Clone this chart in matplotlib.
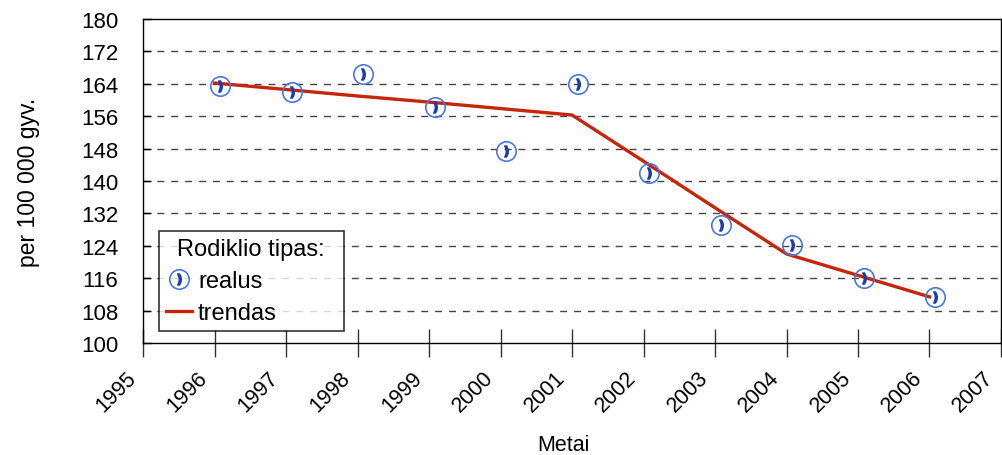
import matplotlib
matplotlib.use("Agg")
import matplotlib.pyplot as plt
import matplotlib.transforms as mtransforms
from matplotlib.lines import Line2D
from matplotlib.offsetbox import HPacker, DrawingArea

plt.rcParams['font.family'] = ['Liberation Sans', 'DejaVu Sans']

years = [1996, 1997, 1998, 1999, 2000, 2001, 2002, 2003, 2004, 2005, 2006]
realus = [163.5, 162.0, 166.4, 158.3, 147.4, 164.0, 142.0, 129.1, 124.2, 116.0, 111.4]
trendas = [164.2, 162.6, 161.0, 159.5, 157.9, 156.3, 144.9, 133.4, 122.0, 116.7, 111.4]
yticks = [100, 108, 116, 124, 132, 140, 148, 156, 164, 172, 180]
xticks = list(range(1995, 2008))

fig = plt.figure(figsize=(10.03, 4.56), dpi=100)
ax = fig.add_axes([0.1426, 0.2456, 0.998 - 0.1426, 0.956 - 0.2456])

ax.set_xlim(1995, 2007)
ax.set_ylim(100, 180)
for t in yticks[1:-1]:
    ax.axhline(t, color='#444444', lw=1, ls=(0, (5, 5)), zorder=1)

ax.plot(years, trendas, color='#c4250b', lw=2.4, zorder=2)
xm = [y + 0.08 for y in years]
ax.plot(xm, realus, ls='none', marker='o', ms=14, mfc='none', mec='#4a78e0', mew=1.2, zorder=3)
ax.plot(xm, realus, ls='none', marker=r'$\mathbf{)}$', ms=8, color='#1a3cb0', zorder=4)

ax.set_xticks(xticks)
ax.set_yticks(yticks)
ax.tick_params(axis='x', direction='inout', length=20, width=1, color='#333333', pad=14)
ax.tick_params(axis='y', direction='in', length=6, width=1, pad=18)
ax.set_xticklabels([str(x) for x in xticks], rotation=45, ha='right', va='center',
                   rotation_mode='anchor', fontsize=15.5)
ax.set_yticklabels([str(y) for y in yticks], fontsize=16)
off = mtransforms.ScaledTranslation(-7.5 / 72, 1.5 / 72, fig.dpi_scale_trans)
for lab in ax.get_xticklabels():
    lab.set_transform(lab.get_transform() + off)
ax.set_ylabel('per 100 000 gyv.', fontsize=16.5)
ax.yaxis.set_label_coords(-0.120, 0.5)
fig.text(563 / 1003, 1 - 446 / 456, 'Metai', fontsize=15.5, ha='center', va='center')
for s in ax.spines.values():
    s.set_linewidth(1)

h1 = (Line2D([], [], ls='none', marker='o', ms=14, mfc='none', mec='#4a78e0', mew=1.2),
      Line2D([], [], ls='none', marker=r'$\mathbf{)}$', ms=8, color='#1a3cb0'))
h2 = Line2D([], [], color='#c4250b', lw=2.4)
leg = ax.legend([h1, h2], ['realus', 'trendas'], title='Rodiklio tipas:', loc='upper left',
                bbox_to_anchor=((159 - 143) / 858, (344 - 232) / 324), fontsize=17, title_fontsize=17,
                frameon=True, fancybox=False, edgecolor='black', handlelength=1.1, handletextpad=0.25,
                borderpad=0.3, labelspacing=0.42, borderaxespad=0)
leg.get_frame().set_linewidth(1.2)
vp = leg._legend_box
vp.align = 'left'
vp._children[0] = HPacker(children=[DrawingArea(8, 1), leg._legend_title_box, DrawingArea(9, 1)],
                          pad=0, sep=0, align='center')

fig.savefig('out.png', dpi=100)
